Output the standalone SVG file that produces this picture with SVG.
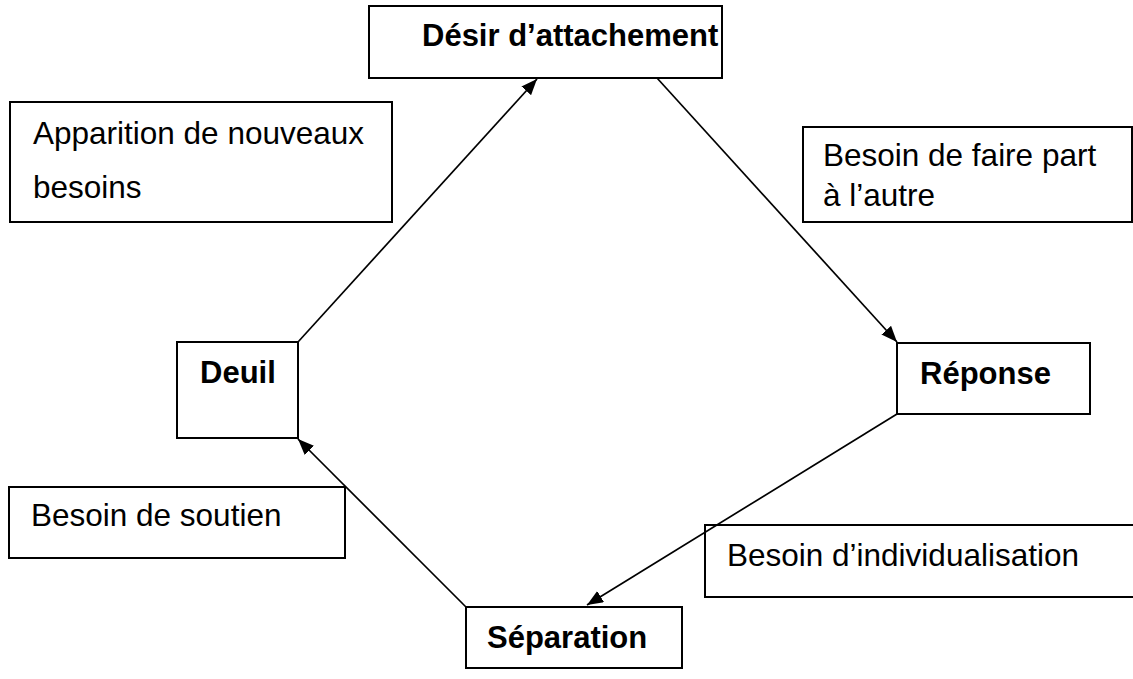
<svg xmlns="http://www.w3.org/2000/svg" width="1133" height="679" viewBox="0 0 1133 679">
<defs>
<style>
.box{fill:none;stroke:#000;stroke-width:2}
.t{font-family:"Liberation Sans",Arial,sans-serif;font-size:31.5px;fill:#000}
.b{font-family:"Liberation Sans",Arial,sans-serif;font-size:31px;font-weight:bold;fill:#000}
.c{stroke:#000;stroke-width:1.7;fill:none;marker-end:url(#ah)}
</style>
<marker id="ah" viewBox="0 0 16 13" refX="16" refY="6.5" markerWidth="16" markerHeight="13" markerUnits="userSpaceOnUse" orient="auto">
<path d="M0,0 L16,6.5 L0,13 z" fill="#000"/>
</marker>
</defs>
<rect width="1133" height="679" fill="#fff"/>
<g id="connectors">
<line class="c" x1="298" y1="342" x2="537" y2="79"/>
<line class="c" x1="657" y1="78" x2="897" y2="342"/>
<line class="c" x1="897" y1="414" x2="587" y2="605"/>
<line class="c" x1="466" y1="607" x2="298" y2="439"/>
</g>
<g id="desir">
<rect class="box" x="369" y="6" width="353" height="72"/>
<text class="b" x="422" y="46">Désir d’attachement</text>
</g>
<g id="apparition">
<rect class="box" x="10" y="102" width="382" height="120"/>
<text class="t" x="33" y="144">Apparition de nouveaux</text>
<text class="t" x="33" y="198">besoins</text>
</g>
<g id="faire-part">
<rect class="box" x="803" y="127" width="329" height="95"/>
<text class="t" x="823" y="166">Besoin de faire part</text>
<text class="t" x="823" y="206">à l’autre</text>
</g>
<g id="deuil">
<rect class="box" x="177" y="342" width="121" height="96"/>
<text class="b" x="200" y="383">Deuil</text>
</g>
<g id="reponse">
<rect class="box" x="897" y="343" width="193" height="71"/>
<text class="b" x="920" y="384">Réponse</text>
</g>
<g id="soutien">
<rect class="box" x="9" y="487" width="336" height="71"/>
<text class="t" x="31" y="526">Besoin de soutien</text>
</g>
<g id="individualisation">
<rect class="box" x="705" y="525" width="430" height="72"/>
<text class="t" x="727" y="566">Besoin d’individualisation</text>
</g>
<g id="separation">
<rect class="box" x="466" y="607" width="216" height="61"/>
<text class="b" x="487" y="648">Séparation</text>
</g>
</svg>
